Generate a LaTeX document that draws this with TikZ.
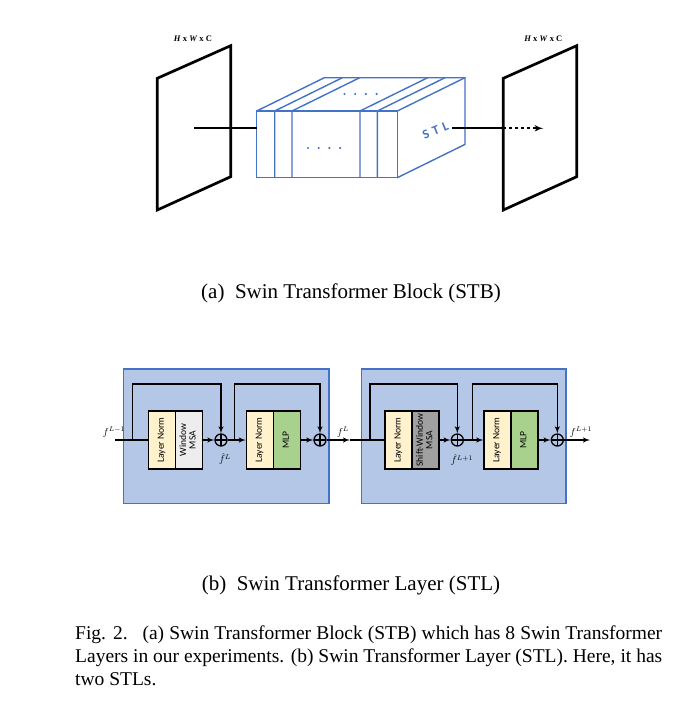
\documentclass[tikz,border=0pt]{standalone}
\usepackage{fontspec}
\usepackage{graphicx}
\setmainfont{Liberation Serif}
\setsansfont{Carlito}
\usetikzlibrary{shapes,arrows,calc,positioning}

\definecolor{stlblue}{RGB}{68,114,196}
\definecolor{panelblue}{RGB}{180,199,231}
\definecolor{normcream}{RGB}{255,242,204}
\definecolor{msagray}{RGB}{237,237,237}
\definecolor{shiftgray}{RGB}{160,160,160}
\definecolor{mlpgreen}{RGB}{169,209,142}

\newcommand{\vtext}[1]{\rotatebox{90}{\begin{tabular}{@{}c@{}}#1\end{tabular}}}

\tikzstyle{line} = [draw, line width=1.4pt, -latex']
\tikzstyle{wire} = [draw, line width=1.4pt]
\tikzstyle{plane} = [draw, line width=2.7pt]
\tikzstyle{slab} = [draw=stlblue, line width=1.4pt]
\tikzstyle{panel} = [draw=stlblue, fill=panelblue, line width=1.2pt]
\tikzstyle{block} = [draw, line width=1.5pt, rectangle, minimum width=27pt, minimum height=58pt, inner sep=0pt, font=\sffamily\fontsize{9.6}{9.6}\selectfont]
\tikzstyle{adder} = [draw, circle, line width=1.3pt, minimum size=12pt, inner sep=0pt, path picture={\draw[line width=1.3pt] (path picture bounding box.north) -- (path picture bounding box.south) (path picture bounding box.west) -- (path picture bounding box.east);}]
\tikzstyle{dims} = [font=\bfseries\fontsize{8.5}{9}\selectfont]
\tikzstyle{sig} = [font=\fontsize{10}{11}\selectfont, inner sep=0.5pt]
\tikzstyle{subcap} = [font=\fontsize{21}{24}\selectfont, anchor=base]
\tikzstyle{figcap} = [font=\fontsize{19.5}{23}\selectfont, anchor=base west, inner sep=0pt]

\begin{document}
\begin{tikzpicture}[x=1pt, y=-1pt]
        \useasboundingbox (0,0) rectangle (676,702);
        % (a) the block of STLs between two feature maps
        \draw[plane] (157.3,78.3) -- (230.7,45.7) -- (230.7,176.7) -- (157.3,210) -- cycle;
        \draw[plane] (503.3,78.3) -- (576.7,45.7) -- (576.7,176.7) -- (503.3,210) -- cycle;
        \node[dims] (dimin) at (193,39) {\textit{H} x \textit{W} x C};
        \node[dims] (dimout) at (543.3,39) {\textit{H} x \textit{W} x C};
        \draw[slab] (256.7,111) rectangle (397.3,177.7);
        \draw[slab] (256.7,111) -- ++(67.7,-33.3) -- ++(140.6,0) -- ++(0,66.7) -- (397.3,177.7);
        \draw[slab] (465,77.7) -- (397.3,111);
        \foreach \s in {274.7,292,360,377.3}
            \draw[slab] (\s,177.7) -- (\s,111) -- ++(67.7,-33.3);
        \foreach \i in {0,...,3} {
            \fill[stlblue] (344.5+\i*10.7,94) circle (1.2);
            \fill[stlblue] (308+\i*10.7,148) circle (1.2);
        }
        \node[font=\sffamily\bfseries\fontsize{13}{14}\selectfont, text=stlblue, rotate=22] (stl) at (435.5,130.5) {S\,\,T\,\,L};
        \coordinate (src) at (194,128.3);
        \coordinate (cubein) at (256.7,128.3);
        \coordinate (stlout) at (452,128.3);
        \coordinate (pierce) at (503.3,128.3);
        \coordinate (tip) at (543.3,128.3);
        \draw[line width=2pt] (src) -- (cubein);
        \draw[line width=2pt] (stlout) -- (pierce);
        \draw[line width=2pt, dashed, -latex'] (pierce) -- (tip);
        \node[subcap] (capa) at (351,298) {(a)\enspace Swin Transformer Block (STB)};

        % (b) two STLs
        \draw[panel] (123.3,369) rectangle (329,503.3);
        \draw[panel] (361.7,369) rectangle (566,503.3);
        \node[block, fill=normcream] (norm1) at (162,440) {\vtext{Layer Norm}};
        \node[block, fill=msagray, right of=norm1, node distance=27pt] (msa1) {\vtext{Window\\MSA}};
        \node[adder] (add1) at (221,440) {};
        \node[block, fill=normcream] (norm2) at (260,440) {\vtext{Layer Norm}};
        \node[block, fill=mlpgreen, right of=norm2, node distance=27pt] (mlp1) {\vtext{MLP}};
        \node[adder] (add2) at (320,440) {};
        \node[block, fill=normcream] (norm3) at (398.7,440) {\vtext{Layer Norm}};
        \node[block, fill=shiftgray, right of=norm3, node distance=27pt] (msa2) {\vtext{Shift-Window\\MSA}};
        \node[adder] (add3) at (457.3,440) {};
        \node[block, fill=normcream] (norm4) at (497.5,440) {\vtext{Layer Norm}};
        \node[block, fill=mlpgreen, right of=norm4, node distance=27pt] (mlp2) {\vtext{MLP}};
        \node[adder] (add4) at (557.3,440) {};
        \coordinate (in1) at (115,440);
        \coordinate (fork1) at (132.3,440);
        \coordinate (fork2) at (234.3,440);
        \coordinate (mid) at (350,440);
        \coordinate (fork3) at (370,440);
        \coordinate (fork4) at (472.3,440);
        \coordinate (out) at (590,440);
        \path[wire] (in1) -- (norm1);
        \path[line] (fork1) -- ++(0,-56) -| (add1);
        \path[line] (msa1) -- (add1);
        \path[line] (add1) -- (norm2);
        \path[line] (fork2) -- ++(0,-56) -| (add2);
        \path[line] (mlp1) -- (add2);
        \path[line] (add2) -- (mid);
        \path[wire] (mid) -- (norm3);
        \path[line] (fork3) -- ++(0,-56) -| (add3);
        \path[line] (msa2) -- (add3);
        \path[line] (add3) -- (norm4);
        \path[line] (fork4) -- ++(0,-56) -| (add4);
        \path[line] (mlp2) -- (add4);
        \path[line] (add4) -- (out);
        \node[sig] (fin) at (114,432) {$f^{L-1}$};
        \node[sig] (fhat1) at (225,459) {$\hat{f}^{L}$};
        \node[sig] (fmid) at (343,432) {$f^{L}$};
        \node[sig] (fhat2) at (462,460) {$\hat{f}^{L+1}$};
        \node[sig] (fout) at (581,432) {$f^{L+1}$};
        \node[subcap] (capb) at (351,590) {(b)\enspace Swin Transformer Layer (STL)};

        % figure caption
        \node[figcap] (cap1) at (75,639) {\makebox[587pt][s]{Fig. 2.\enspace\ (a) Swin Transformer Block (STB) which has 8 Swin Transformer}};
        \node[figcap] (cap2) at (75,662) {\makebox[587pt][s]{Layers in our experiments. (b) Swin Transformer Layer (STL). Here, it has}};
        \node[figcap] (cap3) at (75,685) {two STLs.};
\end{tikzpicture}
\end{document}
